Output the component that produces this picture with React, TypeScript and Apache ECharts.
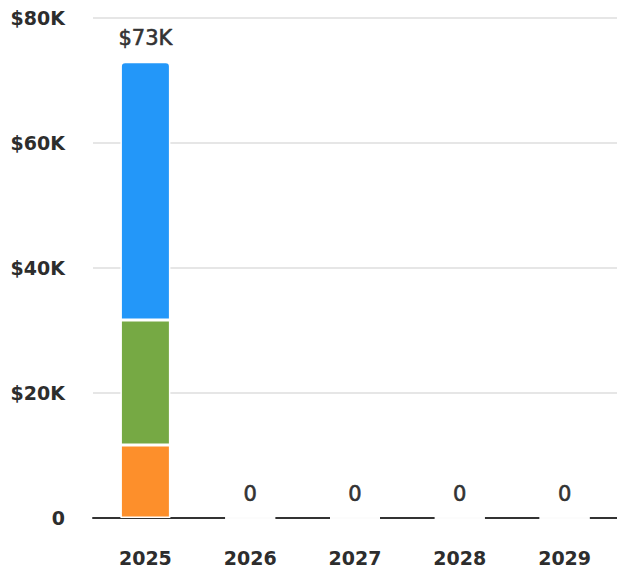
import React, { useEffect, useRef } from "react";
import * as echarts from "echarts";

const years = ["2025", "2026", "2027", "2028", "2029"];
const orangeVals = [11700, 0, 0, 0, 0];
const greenVals = [20000, 0, 0, 0, 0];
const blueVals = [41300, 0, 0, 0, 0];
const totalLabels = ["$73K", "0", "0", "0", "0"];
const yTicks = [0, 20000, 40000, 60000, 80000];

const FONT = "'DejaVu Sans', sans-serif";

export default function App() {
  const ref = useRef<HTMLDivElement>(null);
  useEffect(() => {
    const chart = echarts.init(ref.current!, undefined, { renderer: "svg" });
    const fmtY = (v: number) => (v === 0 ? "0" : "$" + v / 1000 + "K");
    const base = {
      type: "bar",
      stack: "total",
      barWidth: 50,
      itemStyle: { borderColor: "#ffffff", borderWidth: 1.5 },
    };
    chart.setOption({
      animation: false,
      grid: { left: 93, right: 0, top: 18, bottom: 56, containLabel: false },
      xAxis: {
        type: "category",
        data: years,
        axisLine: { show: true, lineStyle: { color: "#333333", width: 2 } },
        axisTick: { show: false },
        axisLabel: {
          color: "#2d2d2d",
          fontFamily: FONT,
          fontWeight: 700,
          fontSize: 19,
          margin: 30,
        },
        z: 1,
      },
      yAxis: {
        type: "value",
        min: 0,
        max: 80000,
        interval: 20000,
        axisLine: { show: false },
        axisTick: { show: false },
        splitLine: { lineStyle: { color: "#e6e6e6", width: 2 } },
        axisLabel: {
          color: "#2d2d2d",
          fontFamily: FONT,
          fontWeight: 700,
          fontSize: 19,
          margin: 28,
          formatter: (v: number) => (yTicks.includes(v) ? fmtY(v) : ""),
        },
      },
      series: [
        { ...base, name: "orange", data: orangeVals, itemStyle: { ...base.itemStyle, color: "#FD8F2B" }, z: 3 },
        { ...base, name: "green", data: greenVals, itemStyle: { ...base.itemStyle, color: "#76A944" }, z: 3 },
        {
          ...base,
          name: "blue",
          data: blueVals,
          itemStyle: { ...base.itemStyle, color: "#2397F9", borderRadius: [4, 4, 0, 0] },
          z: 3,
          label: {
            show: true,
            position: "top",
            distance: 13,
            color: "#333333",
            fontFamily: FONT,
            fontWeight: 400,
            fontSize: 21,
            textBorderColor: "#333333",
            textBorderWidth: 0.6,
            formatter: (p: any) => totalLabels[p.dataIndex],
          },
        },
      ],
    });
    return () => chart.dispose();
  }, []);
  return <div ref={ref} style={{ width: 617, height: 574, position: "absolute", left: 0, top: 0 }} />;
}
